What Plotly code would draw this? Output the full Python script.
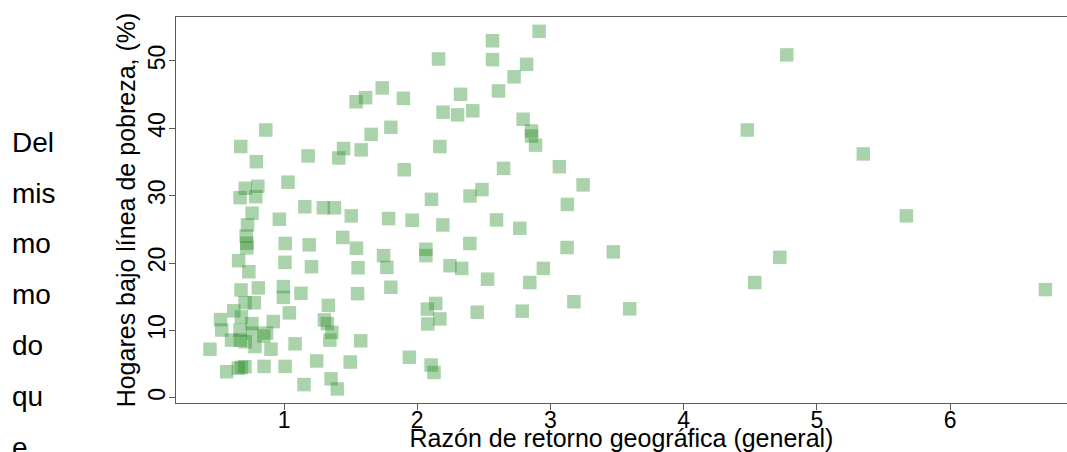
import plotly.graph_objects as go

# Razón de retorno geográfica (general) vs. % de hogares bajo la línea de pobreza
razon_retorno = [
    0.675, 0.863, 0.792, 0.709, 0.803, 0.670, 0.788, 0.760, 0.726, 1.030,
    1.181, 1.156, 1.295, 1.378, 0.965, 1.505, 1.411, 1.447, 1.579, 1.541,
    1.612, 1.737, 1.896, 1.654, 1.802, 1.902, 1.785, 1.962, 2.107, 2.192,
    2.160, 2.170, 2.194, 2.303, 2.325, 2.417, 2.396, 2.486, 2.565, 2.565,
    2.610, 2.727, 2.821, 2.915, 2.795, 2.858, 2.858, 2.888, 2.648, 2.595,
    2.770, 3.067, 3.245, 3.127,
    0.716, 0.721, 0.721, 0.659, 0.736, 1.009, 1.189, 1.007, 1.206, 1.441,
    1.544, 1.556, 1.747, 1.772, 2.065, 2.065, 2.246, 2.334, 2.395, 2.528,
    2.845, 2.947, 3.125, 3.472, 1.802, 1.552, 1.127, 0.995, 0.995, 1.040,
    0.807, 0.677, 0.707, 0.777, 0.623, 0.680, 0.523, 0.532, 0.759, 0.919,
    0.869, 0.848, 0.670, 0.767, 0.606, 0.672, 0.709, 0.782, 0.902, 0.444,
    1.083, 1.333, 1.303, 1.325, 1.359, 1.344, 1.576, 0.570, 0.657, 0.680,
    0.707, 0.850, 1.008, 1.245, 1.497, 1.150, 1.353, 1.400, 1.941, 2.104,
    2.126, 2.139, 2.076, 2.170, 2.079, 2.450, 2.788, 3.176, 3.595,
    4.774, 4.478, 5.349, 5.672, 4.722, 4.534, 6.716,
]
hogares_pobreza = [
    37.3, 39.75, 35.05, 31.1, 31.4, 29.7, 29.85, 27.4, 25.65, 32.0,
    35.9, 28.35, 28.2, 28.2, 26.5, 27.0, 35.6, 37.0, 36.8, 43.95,
    44.55, 46.0, 44.45, 39.1, 40.15, 33.85, 26.6, 26.35, 29.45, 25.65,
    50.3, 37.3, 42.4, 42.0, 45.05, 42.6, 29.95, 30.9, 53.0, 50.2,
    45.55, 47.65, 49.5, 54.4, 41.35, 39.6, 38.85, 37.5, 34.05, 26.4,
    25.15, 34.3, 31.6, 28.7,
    24.0, 22.95, 22.25, 20.35, 18.7, 22.9, 22.7, 20.1, 19.45, 23.8,
    22.2, 19.3, 21.1, 19.35, 22.05, 21.1, 19.6, 19.2, 22.9, 17.6,
    17.1, 19.2, 22.3, 21.65, 16.4, 15.45, 15.5, 16.5, 14.9, 12.6,
    16.3, 16.0, 14.1, 14.1, 12.9, 12.0, 11.6, 10.05, 11.0, 11.3,
    9.6, 9.15, 10.05, 9.6, 8.55, 8.55, 8.3, 7.6, 7.2, 7.2,
    8.0, 13.7, 11.55, 11.0, 9.7, 8.55, 8.45, 3.85, 4.4, 4.5,
    4.6, 4.65, 4.65, 5.45, 5.3, 1.95, 2.8, 1.3, 6.0, 4.85,
    3.75, 14.0, 13.15, 11.7, 10.95, 12.7, 12.85, 14.25, 13.2,
    50.9, 39.75, 36.2, 27.0, 20.85, 17.1, 16.05,
]

x_ticks = [1, 2, 3, 4, 5, 6]
y_ticks = [0, 10, 20, 30, 40, 50]
side_words = ["Del", "mis", "mo", "mo", "do", "qu", "e"]

FONT = "Liberation Sans, Arial, sans-serif"
AXIS_COLOR = "#5a5a5a"

fig = go.Figure(
    go.Scatter(
        x=razon_retorno,
        y=hogares_pobreza,
        mode="markers",
        marker=dict(symbol="square", size=13.5, color="rgba(34,139,34,0.38)",
                    line=dict(width=0)),
        hoverinfo="skip",
    )
)

fig.update_layout(
    width=1067,
    height=452,
    margin=dict(l=176, r=0, t=17, b=49, autoexpand=False),
    paper_bgcolor="white",
    plot_bgcolor="white",
    showlegend=False,
    font=dict(family=FONT, color="black"),
)

fig.update_xaxes(
    range=[0.189, 6.878],
    tickvals=x_ticks,
    ticktext=[str(v) for v in x_ticks],
    ticks="outside", ticklen=6, tickwidth=1, tickcolor=AXIS_COLOR,
    ticklabelstandoff=-10,
    tickfont=dict(size=23, family=FONT),
    showline=True, linecolor=AXIS_COLOR, linewidth=1.2, mirror=True,
    showgrid=False, zeroline=False,
    title=dict(text="Razón de retorno geográfica (general)",
               font=dict(size=25, family=FONT), standoff=4),
)
fig.update_yaxes(
    range=[-0.787, 56.53],
    tickvals=y_ticks,
    ticktext=[str(v) for v in y_ticks],
    tickangle=-90,
    ticks="outside", ticklen=6, tickwidth=1, tickcolor=AXIS_COLOR,
    ticklabelstandoff=-5,
    tickfont=dict(size=23, family=FONT),
    showline=True, linecolor=AXIS_COLOR, linewidth=1.2, mirror=False,
    showgrid=False, zeroline=False,
    title=dict(text="Hogares bajo línea de pobreza, (%)",
               font=dict(size=25, family=FONT), standoff=0),
)

# Fragmented paragraph text running down the left margin
word_rows = [0.676, 0.544, 0.412, 0.282, 0.150, 0.018, -0.114]
for word, yp in zip(side_words, word_rows):
    fig.add_annotation(
        text=word, xref="paper", yref="paper", x=-0.1863, y=yp,
        xanchor="left", yanchor="middle", showarrow=False,
        font=dict(size=28, family=FONT, color="black"),
    )

fig.write_html("out.html")
